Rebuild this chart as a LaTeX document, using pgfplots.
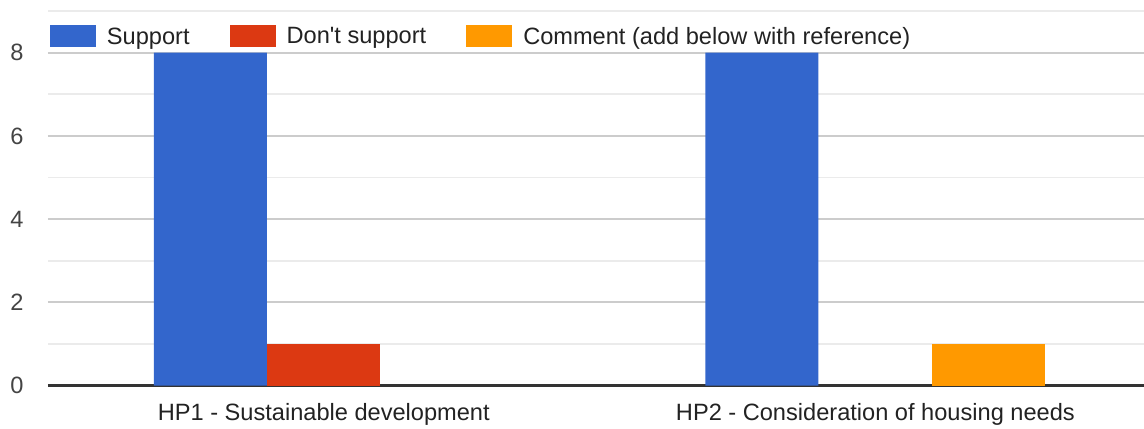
\documentclass[border=0pt]{standalone}
\usepackage{pgfplots}
\pgfplotsset{compat=1.18}
\usepackage{fontspec}
\setmainfont{Liberation Sans}
\definecolor{cblue}{HTML}{3366CC}
\definecolor{cred}{HTML}{DC3912}
\definecolor{corange}{HTML}{FF9900}
\definecolor{gmaj}{HTML}{CCCCCC}
\definecolor{gmin}{HTML}{EBEBEB}
\definecolor{axl}{HTML}{333333}
\definecolor{txt}{HTML}{222222}
\definecolor{ytxt}{HTML}{444444}
\begin{document}
\fontsize{11.8}{14}\selectfont
\begin{tikzpicture}
\path[use as bounding box] (-24pt,-21.25pt) rectangle (548pt,192.75pt);
\begin{axis}[
  at={(0pt,0pt)}, anchor=south west,
  scale only axis, width=548pt, height=187.2pt,
  xmin=-0.5, xmax=1.487, ymin=0, ymax=9,
  axis line style={draw=none},
  tick style={draw=none},
  xtick={0,1},
  xticklabels={HP1 - Sustainable development, HP2 - Consideration of housing needs},
  ytick={0,2,4,6,8},
  minor ytick={1,3,5,7,9},
  ymajorgrids, yminorgrids,
  major grid style={gmaj, line width=0.9pt},
  minor grid style={gmin, line width=0.9pt},
  extra y ticks={0},
  extra y tick labels={},
  extra y tick style={major grid style={axl, line width=1.3pt}},
  /pgf/number format/assume math mode=true,
  yticklabel style={inner sep=0pt, xshift=-12pt, text=ytxt, anchor=east},
  xticklabel style={inner sep=0pt, yshift=-8.5pt, text=txt, anchor=north},
  legend columns=3,
  legend style={at={(0.0018,0.932)}, anchor=west, draw=none, fill=none,
    inner sep=0pt, outer sep=0pt,
    nodes={inner sep=0pt, text=txt},
    /tikz/every odd column/.append style={column sep=5.5pt},
    /tikz/every even column/.append style={column sep=20pt}},
  legend cell align=left,
]
\addplot[ybar, bar width=56.5pt, bar shift=-56.75pt, fill=cblue, draw=none,
  legend image code/.code={\fill[cblue] (0pt,-4.8pt) rectangle (23pt,6.2pt);}]
  coordinates {(0,8) (1,8)};
\addlegendentry{Support}
\addplot[ybar, bar width=56.5pt, bar shift=0pt, fill=cred, draw=none,
  legend image code/.code={\fill[cred] (0pt,-4.8pt) rectangle (23pt,6.2pt);}]
  coordinates {(0,1)};
\addlegendentry{Don\textquotesingle t support}
\addplot[ybar, bar width=56.5pt, bar shift=56.75pt, fill=corange, draw=none,
  legend image code/.code={\fill[corange] (0pt,-4.8pt) rectangle (23pt,6.2pt);}]
  coordinates {(1,1)};
\addlegendentry{Comment (add below with reference)}
\end{axis}
\end{tikzpicture}
\end{document}
